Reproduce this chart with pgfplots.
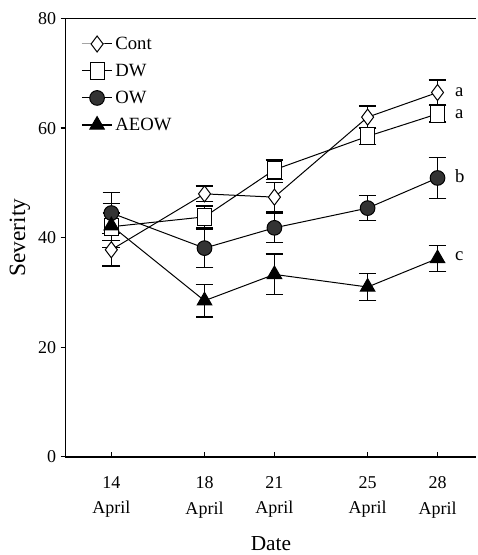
\documentclass[border=0pt]{standalone}
\usepackage{pgfplots}
\pgfplotsset{compat=1.18}
\usepackage{fontspec}
\setmainfont{Liberation Serif}
\begin{document}
\begin{tikzpicture}
\begin{axis}[
  scale only axis,
  width=308pt, height=328.5pt,
  xmin=12.03, xmax=29.67,
  ymin=0, ymax=80,
  axis x line*=box,
  axis y line*=left,
  axis line style={line width=1.3pt},
  xtick={14,18,21,25,28},
  xticklabels={{14\\[2.8pt]April},{18\\[2.8pt]April},{21\\[2.8pt]April},{25\\[2.8pt]April},{28\\[2.8pt]April}},
  xticklabel style={align=center, font=\fontsize{13.5}{16}\selectfont, yshift=-11.5pt},
  ytick={0,20,40,60,80},
  yticklabel style={font=\fontsize{13.5}{16}\selectfont},
  /pgf/number format/assume math mode=true,
  xtick pos=left, ytick pos=left,
  xtick align=inside, ytick align=outside,
  major tick length=3.5pt,
  tick style={line width=0.9pt, black},
  xlabel={Date},
  ylabel={\rule{0pt}{15.5pt}Severity},
  xlabel style={font=\fontsize{16}{18}\selectfont, yshift=-7pt},
  ylabel style={font=\fontsize{17.5}{20}\selectfont, yshift=-1pt},
  title={\rule{0pt}{1pt}},
  legend style={draw=none, fill=none, at={(0.035,0.968)}, anchor=north west,
    font=\fontsize{14}{16}\selectfont, row sep=5.5pt, inner sep=1pt},
  legend cell align=left,
  legend image code/.code={\draw[mark repeat=2, mark phase=2] plot coordinates {(0cm,0cm) (0.4cm,0cm) (0.8cm,0cm)};},
  error bars/y dir=both, error bars/y explicit,
  error bars/error bar style={line width=0.9pt, black},
  error bars/error mark options={rotate=90, mark size=6.6pt, line width=1.1pt, black},
]
\addplot[black, line width=0.75pt, mark=diamond*, mark options={fill=white, solid}, mark size=6pt]
  coordinates {(14,37.8) +- (0,3.0) (18,48.0) +- (0,1.4) (21,47.4) +- (0,2.7) (25,62.0) +- (0,2.0) (28,66.5) +- (0,2.3)};
\addlegendentry{Cont}
\addplot[black, line width=0.75pt, mark=square*, mark options={fill=white, solid, yscale=1.2}, mark size=5.3pt]
  coordinates {(14,42.0) +- (0,2.5) (18,43.8) +- (0,2.0) (21,52.4) +- (0,1.8) (25,58.5) +- (0,1.5) (28,62.6) +- (0,1.5)};
\addlegendentry{DW}
\addplot[black, line width=0.75pt, mark=*, mark options={fill=black!80, solid}, mark size=5.5pt]
  coordinates {(14,44.5) +- (0,3.7) (18,38.1) +- (0,3.5) (21,41.8) +- (0,2.7) (25,45.4) +- (0,2.3) (28,50.9) +- (0,3.7)};
\addlegendentry{OW}
\addplot[black, line width=0.75pt, mark=triangle*, mark options={fill=black, solid}, mark size=6.3pt]
  coordinates {(14,42.2) +- (0,4.0) (18,28.5) +- (0,3.0) (21,33.3) +- (0,3.7) (25,31.0) +- (0,2.5) (28,36.2) +- (0,2.4)};
\addlegendentry{AEOW}
\node[right, font=\fontsize{14}{16}\selectfont] at (axis cs:28.55,66.5) {a};
\node[right, font=\fontsize{14}{16}\selectfont] at (axis cs:28.55,62.6) {a};
\node[right, font=\fontsize{14}{16}\selectfont] at (axis cs:28.55,51.2) {b};
\node[right, font=\fontsize{14}{16}\selectfont] at (axis cs:28.55,36.6) {c};
\end{axis}
\end{tikzpicture}
\end{document}
